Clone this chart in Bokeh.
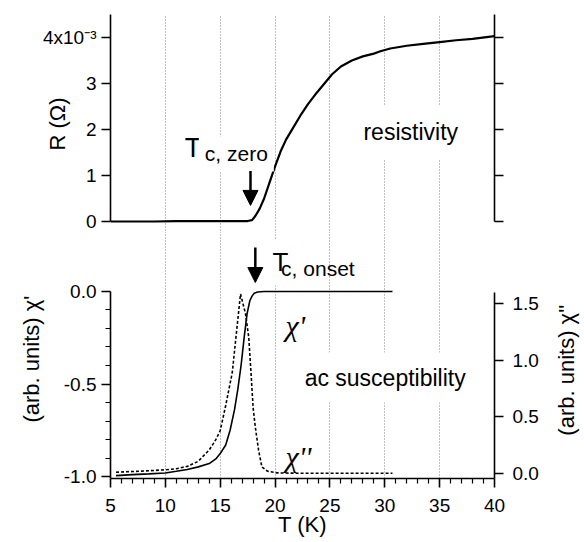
import math
from bokeh.plotting import figure
from bokeh.models import (Range1d, LinearAxis, FixedTicker, CustomJSTickFormatter,
                          PrintfTickFormatter, Label, Arrow, NormalHead, Grid, ColumnDataSource)
from bokeh.layouts import column, row
from bokeh.embed import file_html
from bokeh.resources import INLINE

# ---------------- data ----------------
# resistivity, R in units of 1e-3 Ohm
T_R = [5.0, 7.0, 9.0, 11.0, 13.0, 15.0, 16.5, 17.5, 17.9, 18.2, 18.6, 19.0, 19.5, 20.0,
       20.5, 21.0, 21.6, 22.3, 23.0, 23.8, 24.5, 25.2, 26.0, 27.0, 28.0, 29.0, 29.6,
       30.5, 32.0, 33.5, 35.0, 36.5, 38.0, 40.0]
R_1e3 = [0.0, 0.0, 0.0, 0.01, 0.01, 0.01, 0.01, 0.01, 0.03, 0.12, 0.28, 0.50, 0.85, 1.20,
         1.52, 1.78, 2.02, 2.30, 2.55, 2.80, 3.00, 3.20, 3.37, 3.50, 3.59, 3.65, 3.70,
         3.76, 3.82, 3.86, 3.90, 3.94, 3.97, 4.03]

# ac susceptibility, real part chi'
T_chi1 = [5.5, 7.0, 8.5, 10.0, 11.0, 12.0, 13.0, 14.0, 14.6, 15.0, 15.5, 15.9, 16.3, 16.6,
          16.9, 17.2, 17.45, 17.7, 17.9, 18.1, 18.4, 19.0, 20.0, 22.0, 24.0, 26.0, 28.0, 30.7]
chi1 = [-0.995, -0.99, -0.986, -0.981, -0.972, -0.962, -0.948, -0.93, -0.905, -0.876, -0.83,
        -0.75, -0.64, -0.53, -0.40, -0.24, -0.12, -0.05, -0.025, -0.01, -0.003, 0.0, 0.0,
        0.0, 0.0, 0.0, 0.0, 0.0]

# ac susceptibility, imaginary part chi''
T_chi2 = [5.5, 7.0, 8.5, 10.0, 11.0, 12.0, 13.0, 14.0, 14.6, 15.0, 15.5, 16.1, 16.5, 16.85,
          17.3, 17.6, 17.8, 18.0, 18.2, 18.5, 18.8, 19.3, 20.2, 22.0, 24.0, 26.0, 28.0, 30.7]
chi2 = [0.014, 0.02, 0.027, 0.035, 0.045, 0.065, 0.11, 0.21, 0.30, 0.38, 0.60, 0.89, 1.26,
        1.58, 1.41, 1.20, 0.90, 0.58, 0.41, 0.205, 0.06, 0.023, 0.008, 0.005, 0.005, 0.005,
        0.005, 0.005]

# ticks
T_ticks = [5, 10, 15, 20, 25, 30, 35, 40]
T_minor = [t for t in range(6, 40) if t % 5 != 0]
R_ticks = [0, 1, 2, 3, 4]
chi1_ticks = [-1.0, -0.5, 0.0]
chi1_minor = [-0.9, -0.8, -0.7, -0.6, -0.4, -0.3, -0.2, -0.1]
chi2_ticks = [0.0, 0.5, 1.0, 1.5]

# annotation positions (data units)
Tc_zero = 17.76
Tc_onset = 18.2

FONT = "Liberation Sans"
TICK_SIZE = "19px"
LABEL_SIZE = "22px"

x_range = Range1d(5, 40)
chi1_range = Range1d(-1.0108, 0.3135)


def style_axis(ax):
    ax.axis_line_width = 1.6
    ax.axis_line_color = "black"
    ax.major_tick_line_width = 1.6
    ax.minor_tick_line_width = 1.2
    ax.major_tick_line_color = "black"
    ax.minor_tick_line_color = "black"
    ax.major_tick_in = 0
    ax.major_tick_out = 9
    ax.minor_tick_in = 0
    ax.minor_tick_out = 5
    ax.major_label_text_font = FONT
    ax.major_label_text_font_size = TICK_SIZE
    ax.major_label_text_color = "black"
    ax.axis_label_text_font = FONT
    ax.axis_label_text_font_size = LABEL_SIZE
    ax.axis_label_text_font_style = "normal"
    ax.axis_label_text_color = "black"


def add_grid(p):
    for g in p.grid:
        g.visible = False
    g = Grid(dimension=0, ticker=FixedTicker(ticks=T_ticks, minor_ticks=[]),
             grid_line_color="#808080", grid_line_width=1, grid_line_dash="1 2")
    p.add_layout(g, "center")


def text(p, x, y, s, size, font=FONT, style="normal", pad=None, **kw):
    opts = dict(x=x, y=y, text=s, text_font=font, text_font_size=size,
                text_font_style=style, text_color="black", text_baseline="alphabetic")
    if pad is not None:
        opts.update(background_fill_color="white", padding=pad)
    opts.update(kw)
    p.add_layout(Label(**opts))


# ---------------- top panel: resistivity ----------------
p1 = figure(frame_width=384, frame_height=219, x_range=x_range,
            y_range=Range1d(-0.2609, 4.5), x_axis_location=None, y_axis_location=None,
            toolbar_location=None, output_backend="svg",
            min_border_left=110, min_border_right=56, min_border_top=14, min_border_bottom=0,
            outline_line_color=None, background_fill_color="white", border_fill_color="white")
add_grid(p1)

ly1 = LinearAxis(bounds=(0, 4.5), ticker=FixedTicker(ticks=R_ticks, minor_ticks=[]),
                 formatter=CustomJSTickFormatter(code="return tick == 4 ? '4x10\u207b\u00b3' : tick.toFixed(0);"),
                 axis_label="R (\u03a9)")
style_axis(ly1)
ly1.axis_label_standoff = -30
p1.add_layout(ly1, "left")

ry1 = LinearAxis(bounds=(0, 4.5), ticker=FixedTicker(ticks=R_ticks, minor_ticks=[]),
                 formatter=CustomJSTickFormatter(code="return '';"))
style_axis(ry1)
p1.add_layout(ry1, "right")

src_R = ColumnDataSource(dict(T=T_R, R=R_1e3))
p1.line("T", "R", source=src_R, line_color="black", line_width=2.2)

text(p1, 26.78, 1.935, "resistivity", "23px", pad=14)
text(p1, 11.4, 1.6, "T", "27px", pad=4)
text(p1, 13.05, 1.47, "c, zero", "21px", pad=6)

p1.add_layout(Arrow(end=NormalHead(size=15, fill_color="black", line_color="black"),
                    x_start=Tc_zero, y_start=1.1, x_end=Tc_zero, y_end=0.35,
                    line_color="black", line_width=2.5))

# ---------------- bottom panel: ac susceptibility ----------------
p2 = figure(frame_width=384, frame_height=245, x_range=x_range,
            y_range=chi1_range, x_axis_location="below", y_axis_location=None,
            toolbar_location=None, output_backend="svg",
            min_border_left=110, min_border_right=56, min_border_top=0, min_border_bottom=0,
            outline_line_color=None, background_fill_color="white", border_fill_color="white")
p2.extra_y_ranges = {"chi2": Range1d(-0.0413, 2.1116)}
add_grid(p2)

xa = p2.xaxis[0]
xa.ticker = FixedTicker(ticks=T_ticks, minor_ticks=T_minor)
xa.axis_label = "T (K)"
style_axis(xa)
xa.major_label_standoff = 11
xa.axis_label_standoff = -3

ly2 = LinearAxis(bounds=(-1.0108, 0.0), ticker=FixedTicker(ticks=chi1_ticks, minor_ticks=chi1_minor),
                 formatter=PrintfTickFormatter(format="%.1f"), axis_label="(arb. units)  \u03c7'")
style_axis(ly2)
ly2.axis_label_standoff = 17
p2.add_layout(ly2, "left")

ry2 = LinearAxis(y_range_name="chi2", bounds=(-0.0413, 1.596),
                 ticker=FixedTicker(ticks=chi2_ticks, minor_ticks=[]),
                 formatter=PrintfTickFormatter(format="%.1f"))
style_axis(ry2)
ry2.major_label_standoff = 9
p2.add_layout(ry2, "right")

src1 = ColumnDataSource(dict(T=T_chi1, chi=chi1))
src2 = ColumnDataSource(dict(T=T_chi2, chi=chi2))
p2.line("T", "chi", source=src1, line_color="black", line_width=1.6)
p2.line("T", "chi", source=src2, line_color="black", line_width=1.6, line_dash="3 2",
        y_range_name="chi2")

text(p2, 21.6, -0.465, "ac susceptibility", "23px", pad=12)
text(p2, 20.95, -0.184, "\u03c7'", "30px", font="Liberation Serif", style="italic")
text(p2, 20.95, -0.892, "\u03c7''", "30px", font="Liberation Serif", style="italic")
text(p2, 19.04, 0.157, "T", "26px", pad=8)
text(p2, 20.55, 0.124, "c, onset", "21px")

p2.add_layout(Arrow(end=NormalHead(size=15, fill_color="black", line_color="black"),
                    x_start=Tc_onset, y_start=0.238, x_end=Tc_onset, y_end=0.0486,
                    line_color="black", line_width=2.5))

# ---------------- strip right of the bottom panel: right axis title ----------------
p3 = figure(frame_width=34, frame_height=245, x_range=Range1d(0, 1), y_range=chi1_range,
            x_axis_location=None, y_axis_location=None, toolbar_location=None,
            output_backend="svg", min_border=0, outline_line_color=None,
            background_fill_color="white", border_fill_color="white")
for g in p3.grid:
    g.visible = False
text(p3, 0.47, -0.408, "(arb. units)  \u03c7''", LABEL_SIZE, angle=math.pi / 2,
     text_align="center", text_baseline="middle")

layout = column(p1, row(p2, p3, spacing=0), spacing=0)
open("out.html", "w").write(file_html(layout, INLINE))
